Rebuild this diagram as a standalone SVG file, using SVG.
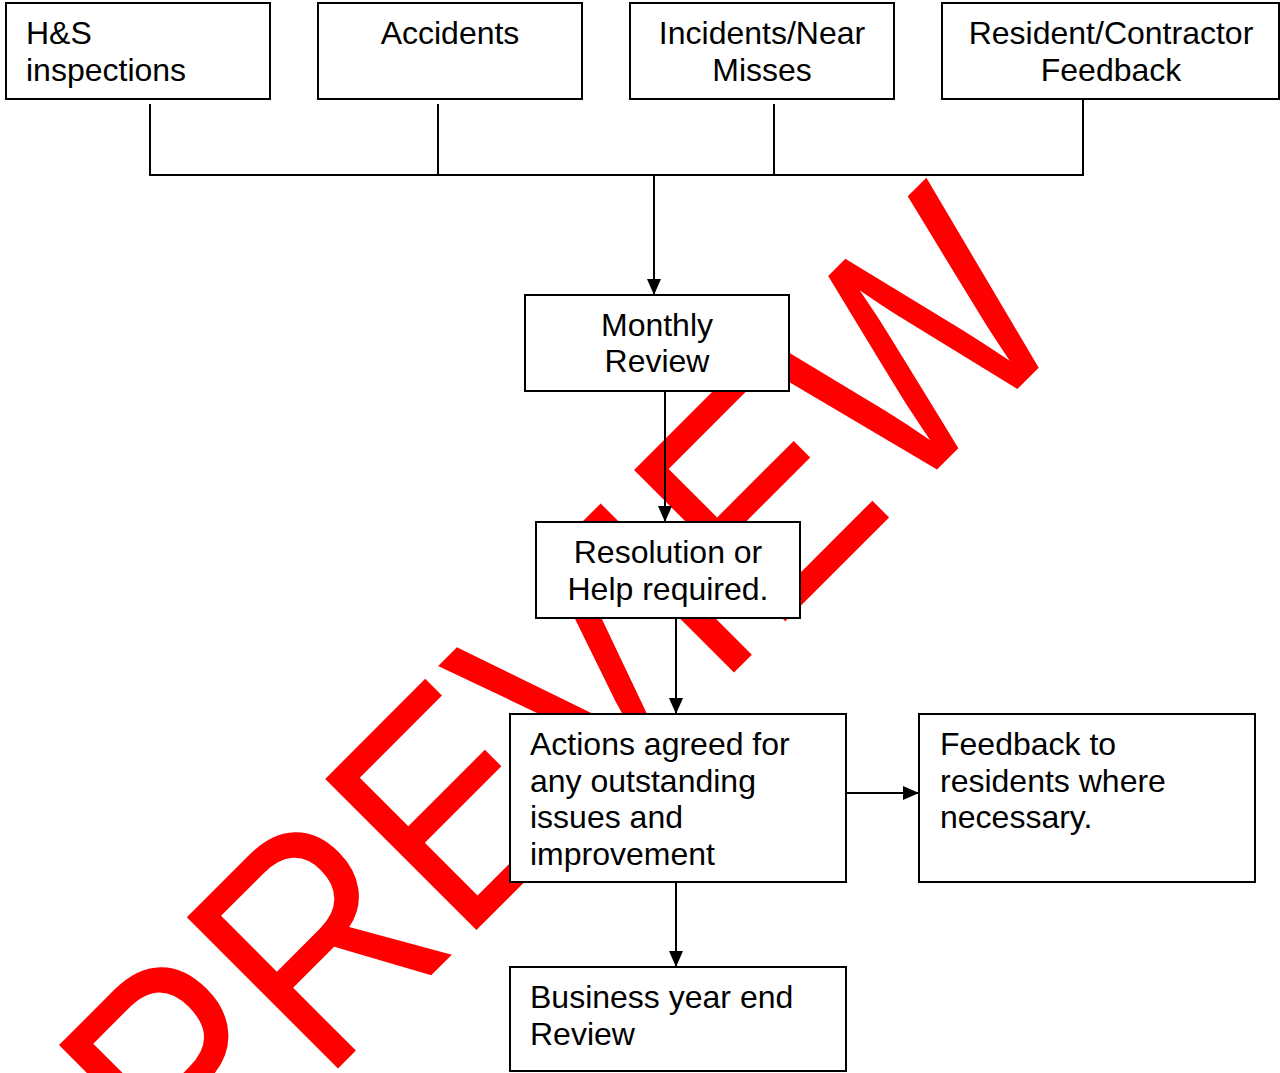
<svg xmlns="http://www.w3.org/2000/svg" width="1280" height="1073" viewBox="0 0 1280 1073">
  <defs>
    <marker id="arrow" viewBox="0 0 16 14" refX="16" refY="7" markerWidth="16" markerHeight="14" markerUnits="userSpaceOnUse" orient="auto">
      <path d="M0,0 L16,7 L0,14 Z" fill="#000"/>
    </marker>
    <style>
      .box { fill: #fff; stroke: #000; stroke-width: 2; }
      .lbl { font-family: "Liberation Sans", Arial, sans-serif; font-size: 32px; fill: #000; }
      .c { text-anchor: middle; }
      .conn { stroke: #000; stroke-width: 2; fill: none; }
      .wm { font-family: "Liberation Sans", Arial, sans-serif; font-size: 271px; fill: #ff0000; }
    </style>
  </defs>
  <rect width="1280" height="1073" fill="#fff"/>

  <text class="wm" transform="rotate(-45) scale(1,1.147)" x="-719.5" y="867.1">PREVIEW</text>

  <g id="n-hs">
    <rect class="box" x="6" y="3" width="264" height="96"/>
    <text class="lbl" x="26" y="44">H&amp;S</text>
    <text class="lbl" x="26" y="81">inspections</text>
  </g>
  <g id="n-accidents">
    <rect class="box" x="318" y="3" width="264" height="96"/>
    <text class="lbl c" x="450" y="44">Accidents</text>
  </g>
  <g id="n-incidents">
    <rect class="box" x="630" y="3" width="264" height="96"/>
    <text class="lbl c" x="762" y="44">Incidents/Near</text>
    <text class="lbl c" x="762" y="81">Misses</text>
  </g>
  <g id="n-feedback-in">
    <rect class="box" x="942" y="3" width="337" height="96"/>
    <text class="lbl c" x="1111" y="44">Resident/Contractor</text>
    <text class="lbl c" x="1111" y="81">Feedback</text>
  </g>
  <g id="n-monthly">
    <rect class="box" x="525" y="295" width="264" height="96"/>
    <text class="lbl c" x="657" y="336">Monthly</text>
    <text class="lbl c" x="657" y="372">Review</text>
  </g>
  <g id="n-resolution">
    <rect class="box" x="536" y="522" width="264" height="96"/>
    <text class="lbl c" x="668" y="563">Resolution or</text>
    <text class="lbl c" x="668" y="600">Help required.</text>
  </g>
  <g id="n-actions">
    <rect class="box" x="510" y="714" width="336" height="168"/>
    <text class="lbl" x="530" y="755">Actions agreed for</text>
    <text class="lbl" x="530" y="792">any outstanding</text>
    <text class="lbl" x="530" y="828">issues and</text>
    <text class="lbl" x="530" y="865">improvement</text>
  </g>
  <g id="n-feedback-out">
    <rect class="box" x="919" y="714" width="336" height="168"/>
    <text class="lbl" x="940" y="755">Feedback to</text>
    <text class="lbl" x="940" y="792">residents where</text>
    <text class="lbl" x="940" y="828">necessary.</text>
  </g>
  <g id="n-yearend">
    <rect class="box" x="510" y="967" width="336" height="104"/>
    <text class="lbl" x="530" y="1008">Business year end</text>
    <text class="lbl" x="530" y="1045">Review</text>
  </g>

  <g id="connectors">
    <line class="conn" x1="150" y1="104" x2="150" y2="175"/>
    <line class="conn" x1="438" y1="104" x2="438" y2="175"/>
    <line class="conn" x1="774" y1="104" x2="774" y2="175"/>
    <line class="conn" x1="1083" y1="99" x2="1083" y2="175"/>
    <line class="conn" x1="149" y1="175" x2="1084" y2="175"/>
    <line class="conn" x1="654" y1="175" x2="654" y2="295" marker-end="url(#arrow)"/>
    <line class="conn" x1="665" y1="391" x2="665" y2="522" marker-end="url(#arrow)"/>
    <line class="conn" x1="676" y1="618" x2="676" y2="714" marker-end="url(#arrow)"/>
    <line class="conn" x1="846" y1="793" x2="919" y2="793" marker-end="url(#arrow)"/>
    <line class="conn" x1="676" y1="882" x2="676" y2="967" marker-end="url(#arrow)"/>
  </g>
</svg>
